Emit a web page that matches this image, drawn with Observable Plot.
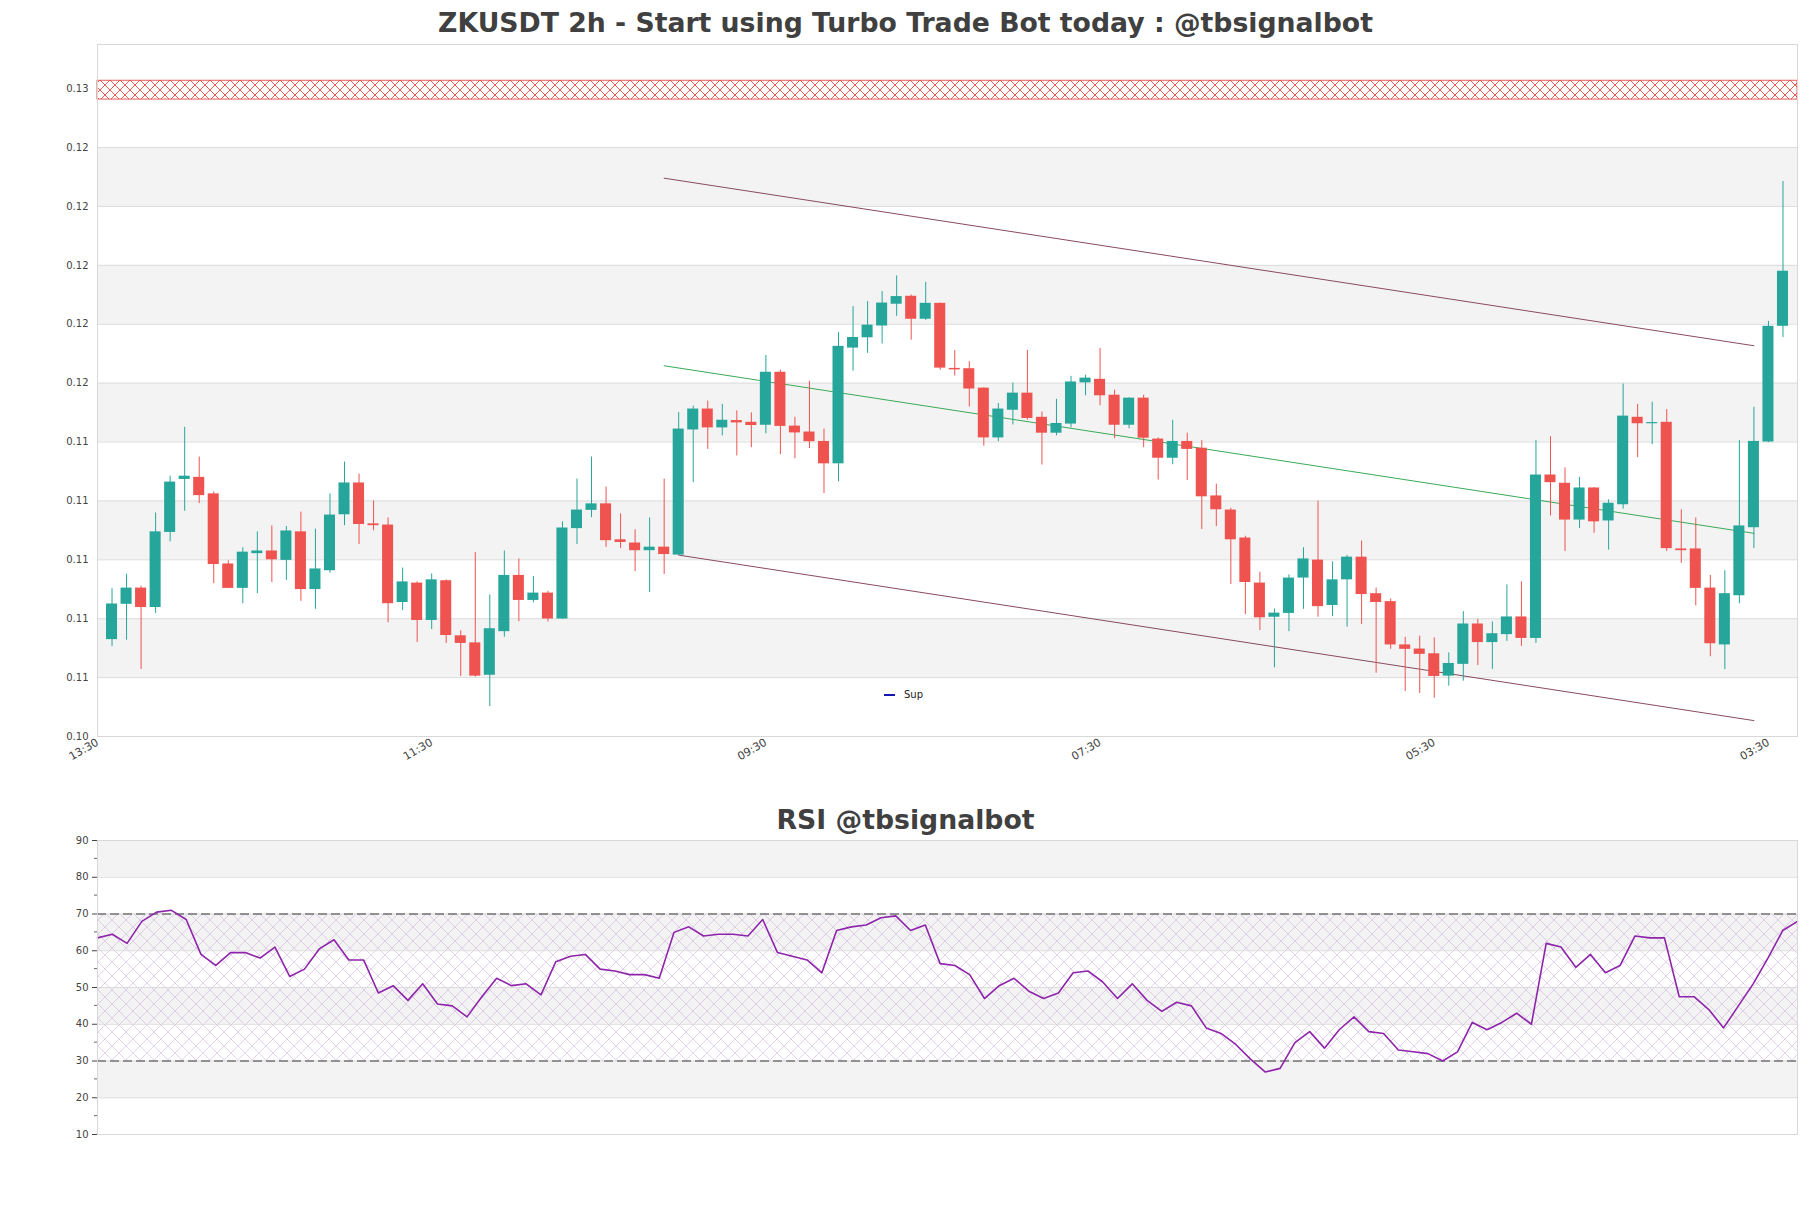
<!DOCTYPE html>
<html><head><meta charset="utf-8">
<script src="https://cdn.jsdelivr.net/npm/d3@7"></script>
<script src="https://cdn.jsdelivr.net/npm/@observablehq/plot@0.6"></script>
<style>
html,body{margin:0;padding:0;background:#fff;}
#root{position:relative;width:1811px;height:1208px;overflow:hidden;background:#fff;font-family:"DejaVu Sans",sans-serif;}
.title{position:absolute;left:0;width:1811px;text-align:center;font-weight:bold;font-size:26.7px;color:#404040;line-height:46px;white-space:nowrap;}
#main{position:absolute;left:0;top:40px;}
#rsi{position:absolute;left:0;top:836px;}
#legend{position:absolute;left:884px;top:689px;font-size:10px;color:#222;display:flex;align-items:center;font-family:"DejaVu Sans",sans-serif;}
#legend span.sw{display:inline-block;width:11px;height:2px;background:#1515b0;margin-right:9px;}
#main [aria-label^="x-axis"] text{font-size:11px;}
</style></head>
<body>
<svg width="0" height="0" style="position:absolute"><defs>
<pattern id="hatchRed" patternUnits="userSpaceOnUse" width="10" height="10"><path d="M0,0L10,10M10,0L0,10" stroke="#e3342f" stroke-width="0.8"/></pattern>
<pattern id="hatchRsi" patternUnits="userSpaceOnUse" width="14" height="14"><path d="M0,0L14,14M14,0L0,14" stroke="#c4a6d6" stroke-width="0.6" opacity="0.8"/></pattern>
</defs></svg>
<div id="root">
  <div class="title" style="top:0">ZKUSDT 2h - Start using Turbo Trade Bot today : @tbsignalbot</div>
  <div id="main"></div>
  <div id="legend"><span class="sw"></span>Sup</div>
  <div class="title" style="top:797px">RSI @tbsignalbot</div>
  <div id="rsi"></div>
</div>
<script>
// ---- data ----
const open  = [0.10729,0.10849,0.10904,0.10838,0.11093,0.11273,0.11280,0.11224,0.10986,0.10903,
               0.11021,0.11030,0.10998,0.11095,0.10899,0.10963,0.11153,0.11261,0.11122,0.11118,
               0.10855,0.10921,0.10794,0.10929,0.10742,0.10718,0.10608,0.10756,0.10947,0.10862,
               0.10887,0.10799,0.11106,0.11168,0.11190,0.11068,0.11057,0.11031,0.11043,0.11016,
               0.11441,0.11512,0.11448,0.11473,0.11467,0.11457,0.11637,0.11454,0.11434,0.11402,
               0.11326,0.11719,0.11754,0.11794,0.11868,0.11895,0.11817,0.11871,0.11650,0.11649,
               0.11583,0.11414,0.11508,0.11566,0.11484,0.11430,0.11461,0.11601,0.11613,0.11559,
               0.11457,0.11549,0.11410,0.11345,0.11402,0.11379,0.11217,0.11169,0.11074,0.10921,
               0.10805,0.10818,0.10938,0.10999,0.10845,0.10932,0.11009,0.10885,0.10858,0.10711,
               0.10697,0.10681,0.10605,0.10645,0.10782,0.10719,0.10746,0.10806,0.10733,0.11288,
               0.11260,0.11135,0.11244,0.11132,0.11187,0.11484,0.11462,0.11467,0.11037,0.11037,
               0.10904,0.10711,0.10878,0.11109,0.11400,0.11793];
const high  = [0.10902,0.10951,0.10910,0.11159,0.11284,0.11450,0.11349,0.11230,0.10997,0.11041,
               0.11095,0.11115,0.11113,0.11162,0.11104,0.11224,0.11332,0.11291,0.11200,0.11142,
               0.10972,0.10925,0.10952,0.10932,0.10759,0.11025,0.10881,0.11030,0.11003,0.10943,
               0.10893,0.11129,0.11274,0.11349,0.11247,0.11156,0.11102,0.11142,0.11274,0.11500,
               0.11522,0.11539,0.11528,0.11506,0.11499,0.11694,0.11644,0.11484,0.11606,0.11444,
               0.11772,0.11860,0.11877,0.11911,0.11964,0.11899,0.11942,0.11872,0.11711,0.11673,
               0.11584,0.11531,0.11600,0.11711,0.11502,0.11545,0.11623,0.11627,0.11718,0.11576,
               0.11550,0.11559,0.11414,0.11474,0.11430,0.11405,0.11257,0.11175,0.11080,0.10958,
               0.10833,0.10949,0.11041,0.11199,0.10993,0.11015,0.11064,0.10904,0.10867,0.10737,
               0.10741,0.10735,0.10684,0.10824,0.10798,0.10789,0.10915,0.10925,0.11405,0.11418,
               0.11312,0.11280,0.11245,0.11204,0.11597,0.11528,0.11535,0.11510,0.11170,0.11142,
               0.10947,0.10963,0.11405,0.11518,0.11810,0.12285];
const low   = [0.10705,0.10727,0.10628,0.10818,0.11061,0.11165,0.11191,0.10919,0.10902,0.10851,
               0.10885,0.10923,0.10930,0.10859,0.10832,0.10954,0.11116,0.11052,0.11099,0.10786,
               0.10828,0.10719,0.10763,0.10716,0.10604,0.10602,0.10502,0.10737,0.10790,0.10854,
               0.10789,0.10798,0.11052,0.11143,0.11042,0.11038,0.10960,0.10889,0.10950,0.11015,
               0.11262,0.11375,0.11421,0.11353,0.11381,0.11428,0.11357,0.11343,0.11378,0.11225,
               0.11265,0.11641,0.11701,0.11733,0.11827,0.11746,0.11813,0.11644,0.11624,0.11519,
               0.11386,0.11401,0.11458,0.11474,0.11322,0.11421,0.11448,0.11557,0.11523,0.11411,
               0.11445,0.11381,0.11271,0.11323,0.11269,0.11103,0.11113,0.10916,0.10814,0.10760,
               0.10633,0.10756,0.10832,0.10805,0.10807,0.10771,0.10780,0.10615,0.10696,0.10553,
               0.10546,0.10530,0.10571,0.10588,0.10641,0.10628,0.10723,0.10706,0.10716,0.11149,
               0.11028,0.11106,0.11090,0.11033,0.11172,0.11347,0.11391,0.11028,0.10988,0.10844,
               0.10671,0.10627,0.10851,0.11038,0.11398,0.11755];
const close = [0.10850,0.10904,0.10838,0.11095,0.11264,0.11284,0.11218,0.10984,0.10903,0.11026,
               0.11030,0.11000,0.11098,0.10899,0.10969,0.11152,0.11261,0.11120,0.11116,0.10851,
               0.10925,0.10794,0.10932,0.10743,0.10716,0.10605,0.10766,0.10947,0.10862,0.10887,
               0.10799,0.11108,0.11169,0.11190,0.11065,0.11059,0.11031,0.11043,0.11018,0.11444,
               0.11512,0.11448,0.11474,0.11465,0.11456,0.11637,0.11453,0.11431,0.11401,0.11326,
               0.11725,0.11755,0.11797,0.11872,0.11894,0.11817,0.11871,0.11651,0.11645,0.11580,
               0.11414,0.11512,0.11566,0.11480,0.11430,0.11463,0.11604,0.11617,0.11557,0.11457,
               0.11549,0.11413,0.11345,0.11402,0.11375,0.11214,0.11170,0.11068,0.10923,0.10803,
               0.10819,0.10938,0.11003,0.10841,0.10932,0.11009,0.10882,0.10855,0.10711,0.10696,
               0.10679,0.10604,0.10648,0.10782,0.10719,0.10749,0.10806,0.10733,0.11288,0.11262,
               0.11135,0.11244,0.11129,0.11192,0.11488,0.11462,0.11466,0.11038,0.11031,0.10903,
               0.10715,0.10885,0.11115,0.11402,0.11793,0.11980];
const rsi   = [63.5,64.5,62,68,70.5,71,68.5,59,56,59.5,
               59.5,58,61,53,55,60.5,63,57.5,57.5,48.5,
               50.5,46.5,51,45.5,45,42,47.5,52.5,50.5,51,
               48,57,58.5,59,55,54.5,53.5,53.5,52.5,65,
               66.5,64,64.5,64.5,64,68.5,59.5,58.5,57.5,54,
               65.5,66.5,67,69,69.5,65.5,67,56.5,56,53.5,
               47,50.5,52.5,49,47,48.5,54,54.5,51.5,47,
               51,46.5,43.5,46,45,39,37.5,34.5,30.5,27,
               28,35,38,33.5,38.5,42,38,37.5,33,32.5,
               32,30,32.5,40.5,38.5,40.5,43,40,62,61,
               55.5,59,54,56,64,63.5,63.5,47.5,47.5,44,
               39,45,51,58,65.5,68];
const xTicks = [0,23,46,69,92,115];
const xTickLabels = ["13:30","11:30","09:30","07:30","05:30","03:30"];
const xDomain = [0,117];
const yDomain = [0.104,0.1275];
const yTicks = [0.104,0.106,0.108,0.110,0.112,0.114,0.116,0.118,0.120,0.122,0.124,0.126];
const yBandLows = [0.106,0.110,0.114,0.118,0.122];
const resistanceZone = [0.12563,0.12627];
const channelUpper = [{i:39,v:0.12296},{i:114,v:0.11727}];
const channelMid   = [{i:39,v:0.11659},{i:114,v:0.11090}];
const channelLower = [{i:40,v:0.11016},{i:114,v:0.10454}];
const rsiTicks = [10,20,30,40,50,60,70,80,90];
const rsiMinor = [15,25,35,45,55,65,75,85];
const rsiBandLows = [20,40,60,80];
const rsiLevels = [30,70];
const rsiZone = [30,70];

// ---- chart ----
const green = "#26a69a", red = "#ef5350";
const candles = open.map((o,k)=>({i:k+1,o,h:high[k],l:low[k],c:close[k]}));
const col = d => d.c >= d.o ? green : red;
const half = 0.38;
const baseStyle = {fontFamily:"DejaVu Sans", fontSize:"10px", color:"#444", background:"transparent", overflow:"visible"};

const main = Plot.plot({
  width:1811, height:740, marginLeft:97, marginRight:14, marginTop:4, marginBottom:44,
  style: baseStyle,
  color:{type:"identity"},
  x:{domain:xDomain, ticks:xTicks, tickFormat:d=>xTickLabels[xTicks.indexOf(d)], tickRotate:-30, tickSize:0, tickPadding:5, label:null},
  y:{domain:yDomain, ticks:yTicks, tickFormat:d3.format(".2f"), tickSize:0, tickPadding:9, label:null},
  marks:[
    Plot.rect(yBandLows, {x1:()=>xDomain[0], x2:()=>xDomain[1], y1:d=>d, y2:d=>d+0.002, fill:"#f3f3f3"}),
    Plot.ruleY(yTicks, {stroke:"#dcdcdc", strokeWidth:1}),
    Plot.rect([resistanceZone], {x1:()=>xDomain[0], x2:()=>xDomain[1], y1:d=>d[0], y2:d=>d[1], fill:"#fff"}),
    Plot.rect([resistanceZone], {x1:()=>xDomain[0], x2:()=>xDomain[1], y1:d=>d[0], y2:d=>d[1], fill:"url(#hatchRed)", stroke:"#e3342f", strokeWidth:0.8}),
    Plot.line(channelUpper, {x:"i", y:"v", stroke:"#8a4b5e", strokeWidth:1}),
    Plot.line(channelLower, {x:"i", y:"v", stroke:"#8a4b5e", strokeWidth:1}),
    Plot.line(channelMid, {x:"i", y:"v", stroke:"#3aaa55", strokeWidth:1}),
    Plot.ruleX(candles, {x:"i", y1:"l", y2:"h", stroke:col, strokeWidth:1}),
    Plot.rect(candles, {x1:d=>d.i-half, x2:d=>d.i+half, y1:"o", y2:"c", fill:col}),
    Plot.frame({stroke:"#d8d8d8"})
  ]
});
document.getElementById("main").appendChild(main);

const rsiData = rsi.map((v,k)=>({i:k+1,v}));
const rsiChart = Plot.plot({
  width:1811, height:310, marginLeft:97, marginRight:14, marginTop:4, marginBottom:12,
  style: baseStyle,
  x:{domain:[1,rsi.length], axis:null},
  y:{domain:[10,90], ticks:rsiTicks, tickSize:5, tickPadding:4, label:null},
  marks:[
    Plot.rect(rsiBandLows, {x1:()=>1, x2:()=>rsi.length, y1:d=>d, y2:d=>d+10, fill:"#f3f3f3"}),
    Plot.rect([rsiZone], {x1:()=>1, x2:()=>rsi.length, y1:d=>d[0], y2:d=>d[1], fill:"url(#hatchRsi)"}),
    Plot.ruleY(rsiTicks, {stroke:"#dcdcdc"}),
    Plot.ruleY(rsiLevels, {stroke:"#3a3a3a", strokeDasharray:"9,4", strokeWidth:1.2}),
    Plot.line(rsiData, {x:"i", y:"v", stroke:"#8e24aa", strokeWidth:1.6}),
    Plot.frame({stroke:"#d8d8d8"})
  ]
});
// minor ticks through the chart's y scale
const ys = rsiChart.scale("y"), xs = rsiChart.scale("x");
const x0 = xs.apply(1);
const g = d3.select(rsiChart).append("g").attr("stroke","#666");
rsiMinor.forEach(v => g.append("line").attr("x1",x0-3).attr("x2",x0).attr("y1",ys.apply(v)).attr("y2",ys.apply(v)));
document.getElementById("rsi").appendChild(rsiChart);
</script>
</body></html>
